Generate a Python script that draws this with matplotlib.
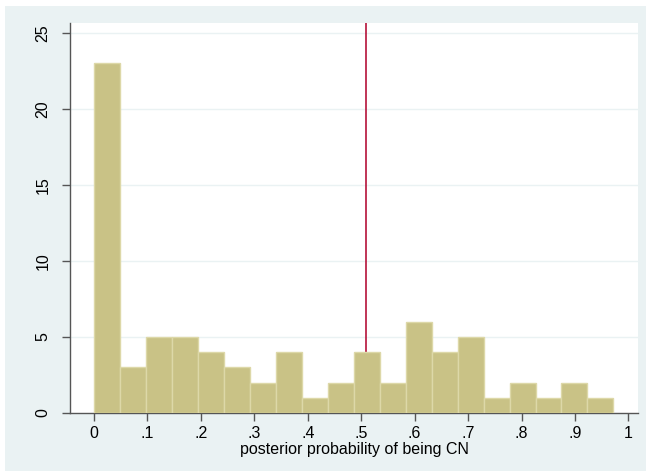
import matplotlib
matplotlib.use('agg')
import matplotlib.pyplot as plt
from matplotlib.patches import Rectangle
import numpy as np

plt.rcParams['font.family'] = ['Liberation Sans', 'DejaVu Sans']

# histogram data
counts = [23, 3, 5, 5, 4, 3, 2, 4, 1, 2, 4, 2, 6, 4, 5, 1, 2, 1, 2, 1]
bin_start = 0.0
bin_width = 0.0486
cutoff = 0.509
xticks = [0, .1, .2, .3, .4, .5, .6, .7, .8, .9, 1]
xticklabels = ['0', '.1', '.2', '.3', '.4', '.5', '.6', '.7', '.8', '.9', '1']
yticks = [0, 5, 10, 15, 20, 25]

bg = '#EAF2F3'
W, H = 646, 475

fig = plt.figure(figsize=(W / 100, H / 100), dpi=100)
fig.patch.set_facecolor('white')
fig.patches.append(Rectangle((5 / W, 4 / H), 641 / W, 465 / H, transform=fig.transFigure,
                             facecolor=bg, edgecolor='none', zorder=-10))

ax = fig.add_axes([70 / W, 62 / H, 568 / W, 390 / H])
ax.set_facecolor('white')

edges = bin_start + bin_width * np.arange(len(counts))
ax.bar(edges, counts, width=bin_width, align='edge', color='#C9C286',
       edgecolor='#DDD8A8', linewidth=1.0, zorder=3)
ax.axvline(cutoff, color='#B5123A', linewidth=1.2, zorder=2)

for y in yticks[1:]:
    ax.axhline(y, color=bg, linewidth=1.0, zorder=1)

ax.set_xlim(-0.045, 1.018)
ax.set_ylim(0, 25.66)
ax.set_xticks(xticks)
ax.set_xticklabels(xticklabels)
ax.set_yticks(yticks)
ax.set_yticklabels([str(v) for v in yticks], rotation=90, va='center')

for s in ['top', 'right']:
    ax.spines[s].set_visible(False)
for s in ['left', 'bottom']:
    ax.spines[s].set_color('#555555')
    ax.spines[s].set_linewidth(1.0)
ax.tick_params(axis='both', length=6, width=1, color='#555555', labelsize=11.5, labelcolor='black', pad=3)
ax.tick_params(axis='y', pad=8)

ax.set_xlabel('posterior probability of being CN', fontsize=11.5, labelpad=1)

fig.savefig('out.png', dpi=100, facecolor=fig.get_facecolor())
